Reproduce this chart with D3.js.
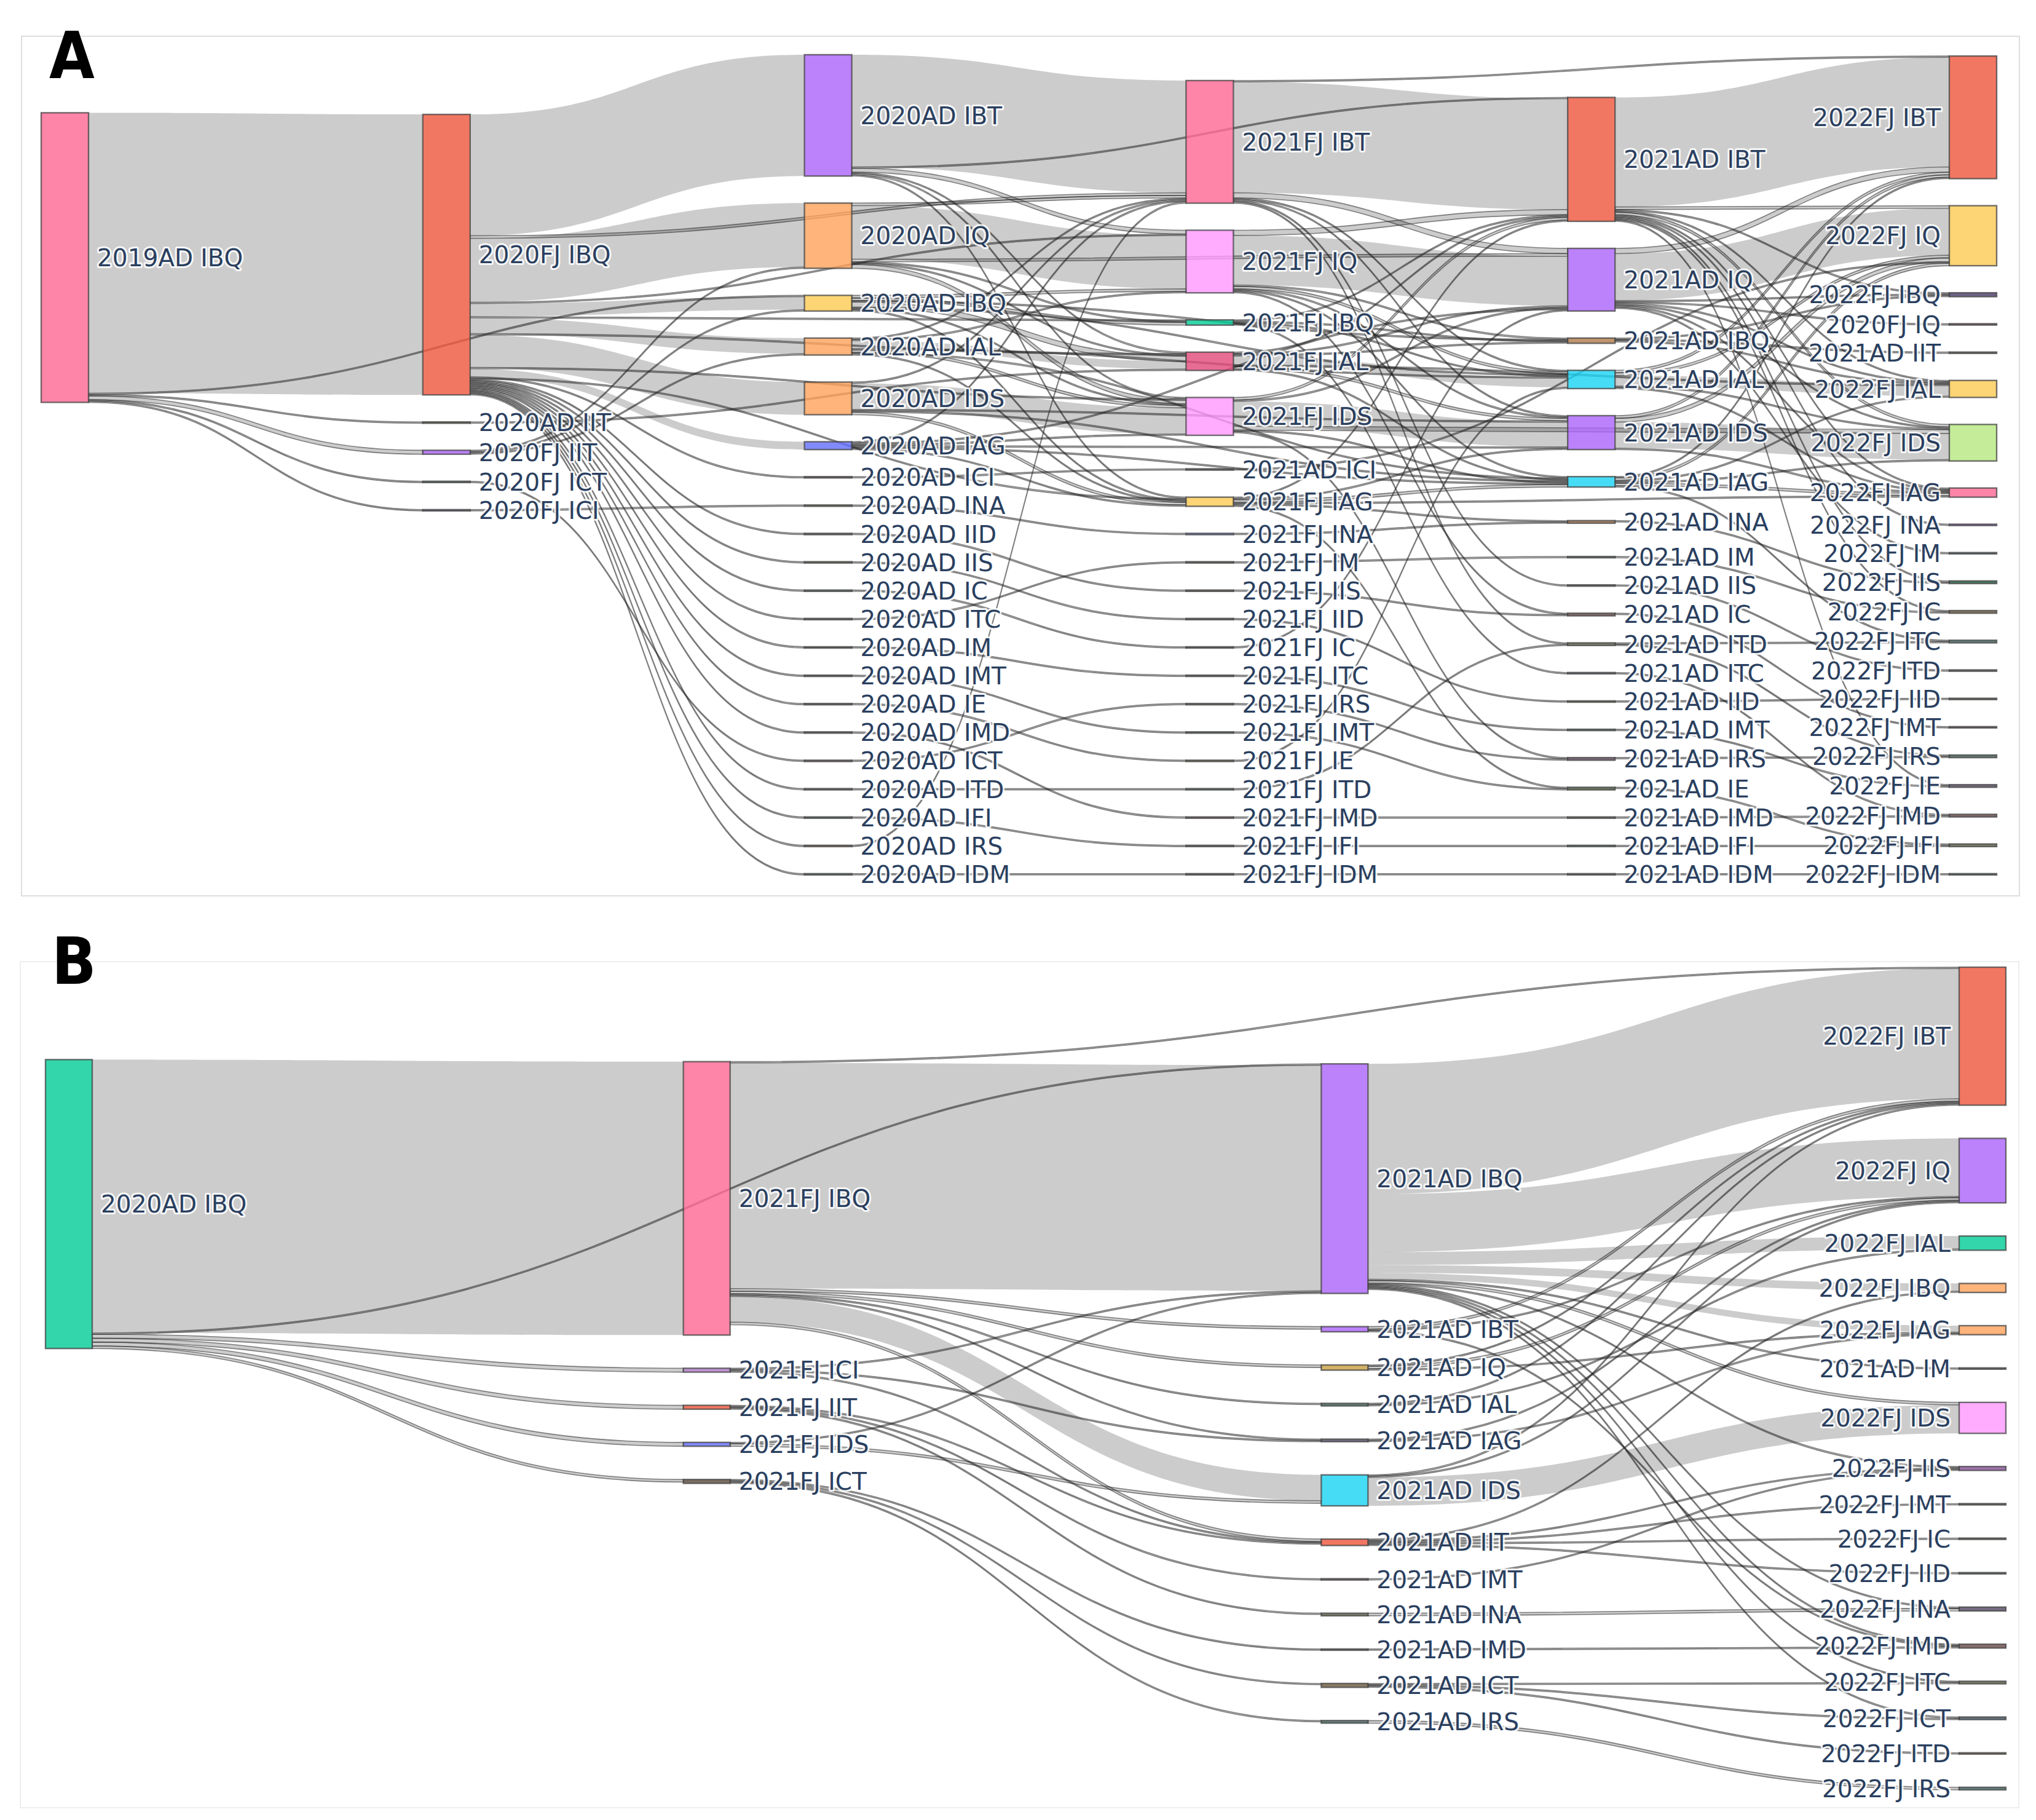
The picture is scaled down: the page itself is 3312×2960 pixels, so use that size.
<!DOCTYPE html>
<html>
<head>
<meta charset="utf-8">
<script src="https://cdn.jsdelivr.net/npm/d3@7"></script>
<style>
  body { margin: 0; background: #fff; }
  svg { display: block; }
  .lbl { font-family: "DejaVu Sans", Verdana, sans-serif; font-size: 39px; fill: #2a3f5f;
         paint-order: stroke; stroke: #fff; stroke-width: 6px; stroke-opacity: 0.85; stroke-linejoin: round; }
  .panel-letter { font-family: "Liberation Sans Narrow", "DejaVu Sans Condensed", "Liberation Sans", sans-serif;
                  font-weight: bold; font-size: 106px; fill: #000; }
</style>
</head>
<body>
<svg id="chart" width="3312" height="2960"></svg>
<script>
// ---------- panel A : nodes (column order as read) and flows ----------
const nodesA = [
  '2019AD IBQ',
  '2020FJ IBQ', '2020AD IIT', '2020FJ IIT', '2020FJ ICT', '2020FJ ICI',
  '2020AD IBT', '2020AD IQ', '2020AD IBQ', '2020AD IAL', '2020AD IDS', '2020AD IAG', '2020AD ICI',
  '2020AD INA', '2020AD IID', '2020AD IIS', '2020AD IC', '2020AD ITC', '2020AD IM', '2020AD IMT',
  '2020AD IE', '2020AD IMD', '2020AD ICT', '2020AD ITD', '2020AD IFI', '2020AD IRS', '2020AD IDM',
  '2021FJ IBT', '2021FJ IQ', '2021FJ IBQ', '2021FJ IAL', '2021FJ IDS', '2021AD ICI', '2021FJ IAG',
  '2021FJ INA', '2021FJ IM', '2021FJ IIS', '2021FJ IID', '2021FJ IC', '2021FJ ITC', '2021FJ IRS',
  '2021FJ IMT', '2021FJ IE', '2021FJ ITD', '2021FJ IMD', '2021FJ IFI', '2021FJ IDM',
  '2021AD IBT', '2021AD IQ', '2021AD IBQ', '2021AD IAL', '2021AD IDS', '2021AD IAG', '2021AD INA',
  '2021AD IM', '2021AD IIS', '2021AD IC', '2021AD ITD', '2021AD ITC', '2021AD IID', '2021AD IMT',
  '2021AD IRS', '2021AD IE', '2021AD IMD', '2021AD IFI', '2021AD IDM',
  '2022FJ IBT', '2022FJ IQ', '2022FJ IBQ', '2020FJ IQ', '2021AD IIT', '2022FJ IAL', '2022FJ IDS',
  '2022FJ IAG', '2022FJ INA', '2022FJ IM', '2022FJ IIS', '2022FJ IC', '2022FJ ITC', '2022FJ ITD',
  '2022FJ IID', '2022FJ IMT', '2022FJ IRS', '2022FJ IE', '2022FJ IMD', '2022FJ IFI', '2022FJ IDM'
];

const linksA = [
  ['2019AD IBQ', '2020FJ IBQ', 215], ['2019AD IBQ', '2020AD IBQ', 1], ['2019AD IBQ', '2020AD IIT', 1],
  ['2019AD IBQ', '2020FJ IIT', 3], ['2019AD IBQ', '2020FJ ICT', 1], ['2019AD IBQ', '2020FJ ICI', 1],

  ['2020FJ IBQ', '2020AD IBT', 93], ['2020FJ IBQ', '2020AD IQ', 49], ['2020FJ IBQ', '2020AD IBQ', 10],
  ['2020FJ IBQ', '2020AD IAL', 12], ['2020FJ IBQ', '2020AD IDS', 25], ['2020FJ IBQ', '2020AD IAG', 6],
  ['2020FJ IBQ', '2020AD ICI', 1], ['2020FJ IBQ', '2020AD IID', 1], ['2020FJ IBQ', '2020AD IIS', 1],
  ['2020FJ IBQ', '2020AD IC', 1], ['2020FJ IBQ', '2020AD ITC', 1], ['2020FJ IBQ', '2020AD IM', 1],
  ['2020FJ IBQ', '2020AD IMT', 1], ['2020FJ IBQ', '2020AD IE', 1], ['2020FJ IBQ', '2020AD IMD', 1],
  ['2020FJ IBQ', '2020AD ITD', 1], ['2020FJ IBQ', '2020AD IFI', 1], ['2020FJ IBQ', '2020AD IRS', 1],
  ['2020FJ IBQ', '2020AD IDM', 1],
  ['2020FJ IBQ', '2021FJ IBT', 2], ['2020FJ IBQ', '2021FJ IQ', 1], ['2020FJ IBQ', '2021FJ IAL', 1],
  ['2020FJ IBQ', '2021FJ IDS', 1], ['2020FJ IBQ', '2021FJ IAG', 1], ['2020FJ IBQ', '2021FJ IBQ', 1],

  ['2020AD IIT', '2021FJ IAL', 1],
  ['2020FJ IIT', '2020AD IQ', 1], ['2020FJ IIT', '2020AD IBQ', 1], ['2020FJ IIT', '2020AD IAL', 1],
  ['2020FJ ICT', '2020AD ICT', 1],
  ['2020FJ ICI', '2020AD INA', 1],

  ['2020AD IBT', '2021FJ IBT', 86], ['2020AD IBT', '2021FJ IQ', 3], ['2020AD IBT', '2021FJ IAL', 1],
  ['2020AD IBT', '2021FJ IDS', 1], ['2020AD IBT', '2021FJ IAG', 1], ['2020AD IBT', '2021AD IBT', 1],
  ['2020AD IQ', '2021FJ IQ', 41], ['2020AD IQ', '2021FJ IBT', 2], ['2020AD IQ', '2021FJ IBQ', 1],
  ['2020AD IQ', '2021FJ IAL', 1], ['2020AD IQ', '2021FJ IDS', 3], ['2020AD IQ', '2021AD IQ', 2],
  ['2020AD IBQ', '2021FJ IBQ', 2], ['2020AD IBQ', '2021FJ IAL', 4], ['2020AD IBQ', '2021FJ IQ', 2],
  ['2020AD IBQ', '2021FJ IDS', 1], ['2020AD IBQ', '2021FJ IAG', 1], ['2020AD IBQ', '2021AD IAL', 1],
  ['2020AD IBQ', '2021AD IBQ', 1],
  ['2020AD IAL', '2021FJ IAL', 6], ['2020AD IAL', '2021FJ IDS', 2], ['2020AD IAL', '2021FJ IAG', 1],
  ['2020AD IAL', '2021FJ IQ', 1], ['2020AD IAL', '2021FJ IBT', 1], ['2020AD IAL', '2021AD IAL', 1],
  ['2020AD IAL', '2021AD IAG', 1],
  ['2020AD IDS', '2021FJ IDS', 20], ['2020AD IDS', '2021FJ IAG', 2], ['2020AD IDS', '2021FJ IBT', 1],
  ['2020AD IDS', '2021AD IDS', 1], ['2020AD IDS', '2021AD IAG', 1],
  ['2020AD IAG', '2021FJ IAG', 1], ['2020AD IAG', '2021FJ IDS', 1], ['2020AD IAG', '2021FJ IBT', 1],
  ['2020AD IAG', '2021AD IAG', 1], ['2020AD IAG', '2021AD IDS', 1], ['2020AD IAG', '2021AD IQ', 1],
  ['2020AD ICI', '2021AD ICI', 1], ['2020AD INA', '2021FJ INA', 1], ['2020AD IID', '2021FJ IIS', 1],
  ['2020AD IIS', '2021FJ IID', 1], ['2020AD IC', '2021FJ IC', 1], ['2020AD ITC', '2021FJ IM', 1],
  ['2020AD IM', '2021FJ ITC', 1], ['2020AD IMT', '2021FJ IMT', 1], ['2020AD IE', '2021FJ IE', 1],
  ['2020AD IMD', '2021FJ IMD', 1], ['2020AD ICT', '2021FJ IRS', 1], ['2020AD ITD', '2021FJ ITD', 1],
  ['2020AD IFI', '2021FJ IFI', 1], ['2020AD IRS', '2021FJ IBT', 1], ['2020AD IDM', '2021FJ IDM', 1],

  ['2021FJ IBT', '2021AD IBT', 85], ['2021FJ IBT', '2022FJ IBT', 1], ['2021FJ IBT', '2021AD IQ', 4],
  ['2021FJ IBT', '2021AD IIS', 1], ['2021FJ IBT', '2021AD ITD', 1], ['2021FJ IBT', '2021AD IAL', 1],
  ['2021FJ IBT', '2021AD IDS', 1],
  ['2021FJ IQ', '2021AD IQ', 38], ['2021FJ IQ', '2021AD IBT', 4], ['2021FJ IQ', '2021AD IBQ', 1],
  ['2021FJ IQ', '2021AD IAL', 2], ['2021FJ IQ', '2021AD IAG', 1], ['2021FJ IQ', '2021AD IDS', 1],
  ['2021FJ IQ', '2021AD IC', 1],
  ['2021FJ IBQ', '2021AD IBQ', 1], ['2021FJ IBQ', '2021AD IAL', 1], ['2021FJ IBQ', '2021AD IBT', 1],
  ['2021FJ IBQ', '2021AD ITC', 1],
  ['2021FJ IAL', '2021AD IAL', 7], ['2021FJ IAL', '2021AD IAG', 1], ['2021FJ IAL', '2021AD IBT', 1],
  ['2021FJ IAL', '2021AD IQ', 1], ['2021FJ IAL', '2022FJ IAL', 1], ['2021FJ IAL', '2021AD IDS', 2],
  ['2021FJ IAL', '2021AD IBQ', 1],
  ['2021FJ IDS', '2021AD IDS', 19], ['2021FJ IDS', '2021AD IAG', 1], ['2021FJ IDS', '2022FJ IDS', 3],
  ['2021FJ IDS', '2021AD IRS', 1], ['2021FJ IDS', '2021AD IQ', 1], ['2021FJ IDS', '2021AD IBT', 2],
  ['2021AD ICI', '2022FJ IQ', 1],
  ['2021FJ IAG', '2021AD IAG', 2], ['2021FJ IAG', '2022FJ IAG', 1], ['2021FJ IAG', '2021AD IDS', 1],
  ['2021FJ IAG', '2021AD IE', 1], ['2021FJ IAG', '2021AD INA', 1], ['2021FJ IAG', '2021AD IBT', 1],
  ['2021FJ INA', '2021AD INA', 1], ['2021FJ IM', '2021AD IM', 1], ['2021FJ IIS', '2021AD IC', 1],
  ['2021FJ IID', '2021AD IID', 1], ['2021FJ IC', '2021AD IQ', 1], ['2021FJ ITC', '2021AD IMT', 1],
  ['2021FJ IRS', '2021AD IRS', 1], ['2021FJ IMT', '2021AD IE', 1], ['2021FJ IE', '2021AD IAL', 1],
  ['2021FJ ITD', '2021AD ITD', 1], ['2021FJ IMD', '2021AD IMD', 1], ['2021FJ IFI', '2021AD IFI', 1],
  ['2021FJ IDM', '2021AD IDM', 1],

  ['2021AD IBT', '2022FJ IBT', 84], ['2021AD IBT', '2022FJ IQ', 2], ['2021AD IBT', '2022FJ IBQ', 1],
  ['2021AD IBT', '2022FJ IAL', 1], ['2021AD IBT', '2022FJ INA', 1], ['2021AD IBT', '2022FJ IDS', 2],
  ['2021AD IBT', '2022FJ IAG', 1], ['2021AD IBT', '2022FJ IIS', 1], ['2021AD IBT', '2022FJ IC', 1],
  ['2021AD IBT', '2022FJ IE', 1],
  ['2021AD IQ', '2022FJ IQ', 36], ['2021AD IQ', '2022FJ IBT', 4], ['2021AD IQ', '2020FJ IQ', 1],
  ['2021AD IQ', '2022FJ IBQ', 1], ['2021AD IQ', '2022FJ IAL', 1], ['2021AD IQ', '2022FJ IM', 1],
  ['2021AD IQ', '2022FJ IDS', 1], ['2021AD IQ', '2022FJ IAG', 1],
  ['2021AD IBQ', '2022FJ IAL', 1], ['2021AD IBQ', '2021AD IIT', 1], ['2021AD IBQ', '2022FJ IBQ', 1],
  ['2021AD IAL', '2022FJ IAL', 8], ['2021AD IAL', '2022FJ IBT', 2], ['2021AD IAL', '2022FJ IQ', 2],
  ['2021AD IAL', '2022FJ IAG', 1], ['2021AD IAL', '2022FJ IDS', 1],
  ['2021AD IDS', '2022FJ IDS', 20], ['2021AD IDS', '2022FJ IQ', 3], ['2021AD IDS', '2022FJ IBT', 2],
  ['2021AD IDS', '2022FJ IAG', 1],
  ['2021AD IAG', '2022FJ IAG', 2], ['2021AD IAG', '2022FJ IQ', 2], ['2021AD IAG', '2022FJ IBT', 1],
  ['2021AD IAG', '2022FJ IAL', 1], ['2021AD IAG', '2022FJ IDS', 1], ['2021AD IAG', '2022FJ ITC', 1],
  ['2021AD INA', '2022FJ IIS', 1], ['2021AD IM', '2022FJ IC', 1], ['2021AD IIS', '2022FJ ITD', 1],
  ['2021AD IC', '2022FJ IMT', 1], ['2021AD ITD', '2022FJ IRS', 1], ['2021AD ITD', '2022FJ ITC', 1],
  ['2021AD ITC', '2022FJ IMD', 1], ['2021AD IID', '2022FJ IID', 1], ['2021AD IMT', '2022FJ IE', 1],
  ['2021AD IRS', '2022FJ IRS', 1], ['2021AD IE', '2022FJ IFI', 1], ['2021AD IMD', '2022FJ IMD', 1],
  ['2021AD IFI', '2022FJ IFI', 1], ['2021AD IDM', '2022FJ IDM', 1]
];

// ---------- panel B ----------
const nodesB = [
  '2020AD IBQ',
  '2021FJ IBQ', '2021FJ ICI', '2021FJ IIT', '2021FJ IDS', '2021FJ ICT',
  '2021AD IBQ', '2021AD IBT', '2021AD IQ', '2021AD IAL', '2021AD IAG', '2021AD IDS', '2021AD IIT',
  '2021AD IMT', '2021AD INA', '2021AD IMD', '2021AD ICT', '2021AD IRS',
  '2022FJ IBT', '2022FJ IQ', '2022FJ IAL', '2022FJ IBQ', '2022FJ IAG', '2021AD IM', '2022FJ IDS',
  '2022FJ IIS', '2022FJ IMT', '2022FJ IC', '2022FJ IID', '2022FJ INA', '2022FJ IMD', '2022FJ ITC',
  '2022FJ ICT', '2022FJ ITD', '2022FJ IRS'
];

const linksB = [
  ['2020AD IBQ', '2021FJ IBQ', 212], ['2020AD IBQ', '2021AD IBQ', 1], ['2020AD IBQ', '2021FJ ICI', 3],
  ['2020AD IBQ', '2021FJ IIT', 3], ['2020AD IBQ', '2021FJ IDS', 3], ['2020AD IBQ', '2021FJ ICT', 2],

  ['2021FJ IBQ', '2021AD IBQ', 175], ['2021FJ IBQ', '2022FJ IBT', 1], ['2021FJ IBQ', '2021AD IDS', 20],
  ['2021FJ IBQ', '2021AD IBT', 2], ['2021FJ IBQ', '2021AD IQ', 2], ['2021FJ IBQ', '2021AD IAL', 1],
  ['2021FJ IBQ', '2021AD IAG', 1], ['2021FJ IBQ', '2021AD IIT', 2],
  ['2021FJ ICI', '2021AD IBQ', 1], ['2021FJ ICI', '2021AD IIT', 1], ['2021FJ ICI', '2021AD IAG', 1],
  ['2021FJ IIT', '2021AD IIT', 1], ['2021FJ IIT', '2021AD INA', 1], ['2021FJ IIT', '2021AD IMT', 1],
  ['2021FJ IDS', '2021AD IDS', 2], ['2021FJ IDS', '2021AD IBQ', 1],
  ['2021FJ ICT', '2021AD ICT', 1], ['2021FJ ICT', '2021AD IRS', 1], ['2021FJ ICT', '2021AD IMD', 1],

  ['2021AD IBQ', '2022FJ IBT', 101], ['2021AD IBQ', '2022FJ IQ', 45], ['2021AD IBQ', '2022FJ IAL', 10],
  ['2021AD IBQ', '2022FJ IBQ', 6], ['2021AD IBQ', '2022FJ IAG', 5], ['2021AD IBQ', '2021AD IM', 1],
  ['2021AD IBQ', '2022FJ IDS', 2], ['2021AD IBQ', '2022FJ IIS', 1], ['2021AD IBQ', '2022FJ ITC', 1],
  ['2021AD IBQ', '2022FJ IMD', 1], ['2021AD IBQ', '2022FJ ICT', 1], ['2021AD IBQ', '2022FJ INA', 1],
  ['2021AD IBT', '2022FJ IBT', 2], ['2021AD IBT', '2022FJ IQ', 1], ['2021AD IBT', '2022FJ IMD', 1],
  ['2021AD IQ', '2022FJ IQ', 2], ['2021AD IQ', '2022FJ IBT', 1], ['2021AD IQ', '2022FJ IAG', 1],
  ['2021AD IAL', '2022FJ IAL', 1], ['2021AD IAL', '2022FJ IBT', 1],
  ['2021AD IAG', '2022FJ IAG', 1], ['2021AD IAG', '2022FJ IQ', 1],
  ['2021AD IDS', '2022FJ IDS', 22], ['2021AD IDS', '2022FJ IBT', 1], ['2021AD IDS', '2022FJ IQ', 1],
  ['2021AD IIT', '2022FJ IIS', 1], ['2021AD IIT', '2022FJ IMT', 1], ['2021AD IIT', '2022FJ IC', 1],
  ['2021AD IIT', '2022FJ IID', 1], ['2021AD IIT', '2022FJ IBQ', 1],
  ['2021AD IMT', '2022FJ IIS', 1],
  ['2021AD INA', '2022FJ INA', 2],
  ['2021AD IMD', '2022FJ IMD', 1],
  ['2021AD ICT', '2022FJ ITC', 1], ['2021AD ICT', '2022FJ ICT', 1], ['2021AD ICT', '2022FJ ITD', 1],
  ['2021AD IRS', '2022FJ IRS', 2]
];

// ---------- styles ----------
const mainColorsA = {
  '2019AD IBQ': '#FF6692', '2020FJ IBQ': '#EF553B', '2020FJ IIT': '#AB63FA',
  '2020AD IBT': '#AB63FA', '2020AD IQ': '#FFA15A', '2020AD IBQ': '#FECB52', '2020AD IAL': '#FFA15A',
  '2020AD IDS': '#FFA15A', '2020AD IAG': '#636EFA',
  '2021FJ IBT': '#FF6692', '2021FJ IQ': '#FF97FF', '2021FJ IBQ': '#00CC96', '2021FJ IAL': '#E2497A',
  '2021FJ IDS': '#FF97FF', '2021FJ IAG': '#FECB52', '2021FJ INA': '#636EFA',
  '2021AD IBT': '#EF553B', '2021AD IQ': '#AB63FA', '2021AD IBQ': '#B07A4A', '2021AD IAL': '#19D3F3',
  '2021AD IDS': '#AB63FA', '2021AD IAG': '#19D3F3', '2021AD INA': '#9C6B42',
  '2022FJ IBT': '#EF553B', '2022FJ IQ': '#FECB52', '2022FJ IBQ': '#4B3B6B', '2022FJ IAL': '#FECB52',
  '2022FJ IDS': '#B6E880', '2022FJ IAG': '#FF6692', '2022FJ INA': '#8A4FD8', '2022FJ IIS': '#1F5A40'
};
const mainColorsB = {
  '2020AD IBQ': '#00CC96', '2021FJ IBQ': '#FF6692', '2021FJ ICI': '#B07ACB', '2021FJ IIT': '#EF553B',
  '2021FJ IDS': '#636EFA', '2021AD IBQ': '#AB63FA', '2021AD IBT': '#AB63FA', '2021AD IQ': '#C9A040',
  '2021AD IDS': '#19D3F3', '2021AD IIT': '#EF553B',
  '2022FJ IBT': '#EF553B', '2022FJ IQ': '#AB63FA', '2022FJ IAL': '#00CC96', '2022FJ IBQ': '#FFA15A',
  '2022FJ IAG': '#FFA15A', '2022FJ IDS': '#FF97FF', '2022FJ IIS': '#8A4F9A'
};
const minorPalette = ['#5d4b3c', '#3e5f55', '#554a66', '#6b4a4a', '#5a6447', '#3f5566',
                      '#6e5c3e', '#3e6660', '#644a5e', '#4b5a3e'];

// ---------- layout (sankey relaxation, node order kept) ----------
function sankeyLayout(nodeNames, rows, opt) {
  const nodes = nodeNames.map((name, i) => ({ name, index: i, sourceLinks: [], targetLinks: [] }));
  const byName = new Map(nodes.map(n => [n.name, n]));
  const links = rows.map(([s, t, v], i) => {
    const l = { source: byName.get(s), target: byName.get(t), value: v, index: i };
    l.source.sourceLinks.push(l);
    l.target.targetLinks.push(l);
    return l;
  });
  nodes.forEach(n => {
    n.value = Math.max(d3.sum(n.sourceLinks, l => l.value), d3.sum(n.targetLinks, l => l.value));
  });

  let current = new Set(nodes), depth = 0;
  while (current.size) {
    const next = new Set();
    current.forEach(n => { n.depth = depth; n.sourceLinks.forEach(l => next.add(l.target)); });
    depth++;
    current = next;
  }
  const last = d3.max(nodes, n => n.depth);
  nodes.forEach(n => { n.layer = n.sourceLinks.length ? n.depth : last; });

  const x = d3.scaleLinear().domain([0, last]).range([opt.x0, opt.x1 - opt.nodeWidth]);
  nodes.forEach(n => { n.x0 = x(n.layer); n.x1 = n.x0 + opt.nodeWidth; });

  const columns = d3.groups(nodes, n => n.layer).sort((a, b) => a[0] - b[0]).map(d => d[1]);
  const py = opt.pad, y0 = opt.y0, y1 = opt.y1;
  const ky = d3.min(columns, c => (y1 - y0 - (c.length - 1) * py) / d3.sum(c, n => n.value));
  const h = d3.scaleLinear().domain([0, 1]).range([0, ky]);
  columns.forEach(c => c.forEach((n, i) => { n.y0 = i; n.y1 = i + h(n.value); }));
  links.forEach(l => { l.width = h(l.value); });

  const center = n => (n.y0 + n.y1) / 2;
  const move = (n, dy) => { n.y0 += dy; n.y1 += dy; };

  function resolveColumn(c) {
    let y = y0, dy, n;
    c.forEach(nd => { dy = y - nd.y0; if (dy > 0) move(nd, dy); y = nd.y1 + py; });
    dy = y - py - y1;
    if (dy > 0) {
      n = c[c.length - 1]; move(n, -dy); y = n.y0;
      for (let i = c.length - 2; i >= 0; --i) {
        n = c[i]; dy = n.y1 + py - y;
        if (dy > 0) move(n, -dy);
        y = n.y0;
      }
    }
  }

  columns.forEach(resolveColumn);
  for (let alpha = 1, k = opt.iterations; k > 0; --k) {
    alpha *= 0.99;
    for (let i = columns.length - 2; i >= 0; --i) {
      columns[i].forEach(n => {
        if (!n.sourceLinks.length) return;
        const t = d3.sum(n.sourceLinks, l => center(l.target) * l.value) / d3.sum(n.sourceLinks, l => l.value);
        move(n, (t - center(n)) * alpha);
      });
      resolveColumn(columns[i]);
    }
    for (let i = 1; i < columns.length; ++i) {
      columns[i].forEach(n => {
        if (!n.targetLinks.length) return;
        const s = d3.sum(n.targetLinks, l => center(l.source) * l.value) / d3.sum(n.targetLinks, l => l.value);
        move(n, (s - center(n)) * alpha);
      });
      resolveColumn(columns[i]);
    }
  }

  nodes.forEach(n => {
    n.sourceLinks.sort((a, b) => (a.target.y0 - b.target.y0) || (a.index - b.index));
    n.targetLinks.sort((a, b) => (a.source.y0 - b.source.y0) || (a.index - b.index));
  });
  nodes.forEach(n => {
    let a = n.y0, b = n.y0;
    n.sourceLinks.forEach(l => { l.sy = a + l.width / 2; a += l.width; });
    n.targetLinks.forEach(l => { l.ty = b + l.width / 2; b += l.width; });
  });
  return { nodes, links, last };
}

function ribbon(l) {
  const xa = l.source.x1, xb = l.target.x0, xm = (xa + xb) / 2, w = l.width / 2;
  return `M${xa},${l.sy - w}C${xm},${l.sy - w} ${xm},${l.ty - w} ${xb},${l.ty - w}` +
         `L${xb},${l.ty + w}C${xm},${l.ty + w} ${xm},${l.sy + w} ${xa},${l.sy + w}Z`;
}

const svg = d3.select('#chart');

function drawPanel(graph, mainColors, frame, letter) {
  const minor = d3.scaleOrdinal(minorPalette);
  const colorOf = name => mainColors[name] || minor(name);
  const g = svg.append('g');

  g.append('rect')
    .attr('x', frame.x).attr('y', frame.y).attr('width', frame.w).attr('height', frame.h)
    .attr('fill', 'none').attr('stroke', frame.stroke).attr('stroke-width', 2);

  g.append('g').selectAll('path').data(graph.links).join('path')
    .attr('d', ribbon)
    .attr('fill', 'rgba(0,0,0,0.2)')
    .attr('stroke', l => l.width < 10 ? 'rgba(40,40,40,0.55)' : 'none')
    .attr('stroke-width', 1.6);

  g.append('g').selectAll('rect').data(graph.nodes).join('rect')
    .attr('x', n => n.x0).attr('y', n => n.y0)
    .attr('width', n => n.x1 - n.x0).attr('height', n => Math.max(1, n.y1 - n.y0))
    .attr('fill', n => colorOf(n.name)).attr('fill-opacity', 0.8)
    .attr('stroke', '#444').attr('stroke-width', 2.4).attr('stroke-opacity', 0.75);

  g.append('g').selectAll('text').data(graph.nodes).join('text')
    .attr('class', 'lbl')
    .attr('x', n => n.layer === graph.last ? n.x0 - 14 : n.x1 + 14)
    .attr('y', n => (n.y0 + n.y1) / 2)
    .attr('dy', '0.36em')
    .attr('text-anchor', n => n.layer === graph.last ? 'end' : 'start')
    .text(n => n.name);

  g.append('text').attr('class', 'panel-letter')
    .attr('x', letter.x).attr('y', letter.y).text(letter.text);
}

const graphA = sankeyLayout(nodesA, linksA,
  { x0: 67, x1: 3248, y0: 89, y1: 1423, nodeWidth: 77, pad: 44, iterations: 50 });
const graphB = sankeyLayout(nodesB, linksB,
  { x0: 74, x1: 3263, y0: 1573, y1: 2911, nodeWidth: 76, pad: 54, iterations: 50 });

drawPanel(graphA, mainColorsA, { x: 35, y: 59, w: 3250, h: 1398, stroke: '#dedede' },
  { x: 80, y: 127, text: 'A' });
drawPanel(graphB, mainColorsB, { x: 33, y: 1564, w: 3251, h: 1376, stroke: '#eeeeee' },
  { x: 84, y: 1600, text: 'B' });
</script>
</body>
</html>
